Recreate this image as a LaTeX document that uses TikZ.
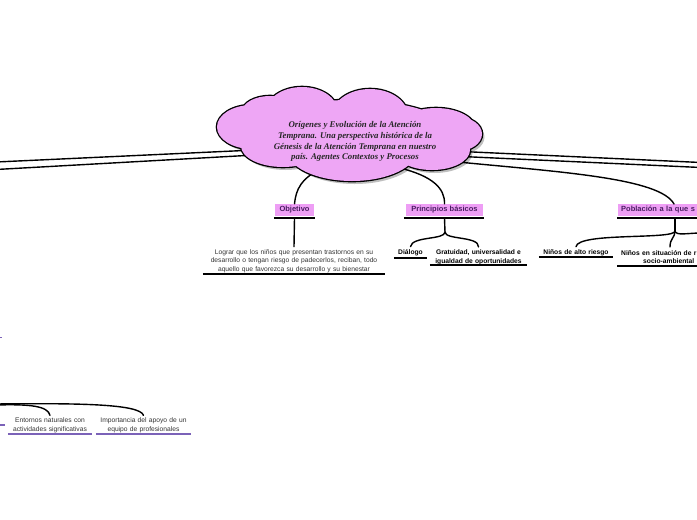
\documentclass[tikz,border=0pt]{standalone}
\usepackage{fontspec}
\setmainfont{Liberation Sans}
\newfontfamily\cloudfont{Liberation Serif}
\definecolor{cloudpink}{HTML}{EEA6F5}
\definecolor{boxpink}{HTML}{EE9EF5}
\definecolor{boxtext}{HTML}{4A1E62}
\definecolor{bodytext}{HTML}{333333}
\definecolor{ulpurple}{HTML}{7B62B8}
\begin{document}
\begin{tikzpicture}[x=1pt,y=1pt,
  conn/.style={line width=1.4pt, line cap=round},
  pbox/.style={fill=boxpink, inner xsep=3pt, inner ysep=0pt, minimum height=12pt,
    font=\fontsize{7.5}{8}\selectfont\bfseries, text=boxtext},
  uline/.style={line width=1.6pt},
  pline/.style={line width=1.6pt, draw=ulpurple},
  body/.style={font=\fontsize{6.7}{8.6}\selectfont, text=bodytext, align=center, inner xsep=0pt, inner ysep=2.5pt},
  bbody/.style={font=\fontsize{6.7}{8.6}\selectfont\bfseries, text=black, align=center, inner xsep=0pt, inner ysep=2.5pt}]
\useasboundingbox (0,0) rectangle (697,-520);
\clip (0,0) rectangle (697,-520);

% ---------- nodes ----------
\node[pbox, minimum width=39pt] (obj) at (294.5,-210) {Objetivo};
\node[pbox, minimum width=77pt] (princ) at (444.5,-210) {Principios básicos};
\node[pbox, anchor=west, text width=94pt, align=left] (pobl) at (618,-210) {Población a la que s};

\node[body, text width=182pt] (lograr) at (294,-261) {Lograr que los niños que presentan trastornos en su\\desarrollo o tengan riesgo de padecerlos, reciban, todo\\aquello que favorezca su desarrollo y su bienestar};
\node[bbody, text width=33pt] (dial) at (410.5,-252.5) {Diálogo};
\node[bbody, text width=97pt] (grat) at (478.5,-257) {Gratuidad, universalidad e\\igualdad de oportunidades};
\node[bbody, text width=74pt] (alto) at (576,-252.5) {Niños de alto riesgo};
\node[bbody, text width=80pt, align=left, anchor=west] (sit) at (621,-257) {Niños en situación de r\\\hspace*{22pt}socio-ambiental};
\node[body, text width=84pt] (ent) at (50,-425.5) {Entornos naturales con\\actividades significativas};
\node[body, text width=95pt] (imp) at (143.5,-425.5) {Importancia del apoyo de un\\equipo de profesionales};

% ---------- underlines ----------
\draw[uline] ([xshift=-1pt,yshift=-2pt]obj.south west) -- ([xshift=1pt,yshift=-2pt]obj.south east);
\draw[uline] ([xshift=-2pt,yshift=-2pt]princ.south west) -- ([xshift=1pt,yshift=-2pt]princ.south east);
\draw[uline] ([xshift=-1pt,yshift=-2pt]pobl.south west) -- ([xshift=1pt,yshift=-2pt]pobl.south east);
\draw[uline] (lograr.west |- 0,-274) -- (lograr.east |- 0,-274);
\draw[uline] (dial.west |- 0,-258) -- (dial.east |- 0,-258);
\draw[uline] (grat.west |- 0,-265) -- (grat.east |- 0,-265);
\draw[uline] (alto.west |- 0,-257) -- (alto.east |- 0,-257);
\coordinate (sitR) at (701,-266);
\draw[uline] ([xshift=-4pt]sit.west |- 0,-266) -- (sitR);
\draw[pline] (ent.west |- 0,-434) -- (ent.east |- 0,-434);
\draw[pline] (imp.west |- 0,-434) -- (imp.east |- 0,-434);
\coordinate (pl1a) at (-4,-425); \coordinate (pl1b) at (5,-425);
\draw[pline] (pl1a) -- (pl1b);
\coordinate (pl2a) at (-4,-337.5); \coordinate (pl2b) at (2,-337.5);
\draw[pline] (pl2a) -- (pl2b);

% ---------- connector anchor points ----------
\coordinate (cL1) at (255,-150); \coordinate (lE1) at (-4,-162);
\coordinate (cL2) at (255,-155); \coordinate (lE2) at (-4,-169.5);
\coordinate (cR1) at (462,-151.5); \coordinate (rE1) at (701,-162.5);
\coordinate (cR2) at (462,-156.5); \coordinate (rE2) at (701,-167.5);
\coordinate (cR3) at (458,-162); \coordinate (pTop) at (674,-204);
\coordinate (cO) at (326,-166);
\coordinate (cP) at (400,-168);
\coordinate (pj) at (445,-232);
\coordinate (qTop) at (675,-219); \coordinate (qj) at (675,-231);
\coordinate (qR) at (701,-233);
\coordinate (sitTop) at (670,-247);
\coordinate (bl0) at (-4,-405); \coordinate (bl1) at (-4,-404);

% ---------- connectors ----------
\draw[conn] (cL1) -- (lE1);
\draw[conn] (cL2) -- (lE2);
\draw[conn] (cR1) -- (rE1);
\draw[conn] (cR2) -- (rE2);
\draw[conn] (cR3) .. controls (560,-172) and (660,-178) .. (pTop);
\draw[conn] (cO) .. controls (300,-178) and (296,-190) .. (obj.north);
\draw[conn] (cP) .. controls (432,-176) and (445,-188) .. (princ.north);
\draw[conn] ([yshift=-2pt]obj.south) -- (lograr.north);
\draw[conn] ([yshift=-2pt]princ.south) -- (pj);
\draw[conn] (pj) .. controls (445,-240) and (412,-236) .. (dial.north);
\draw[conn] (pj) .. controls (445,-240) and (479,-236) .. (grat.north);
\draw[conn] (qTop) -- (qj);
\draw[conn] (qj) .. controls (675,-240) and (578,-232) .. (alto.north);
\draw[conn] (qj) .. controls (675,-238) and (670,-238) .. (sitTop);
\draw[conn] (qj) .. controls (676,-236) and (688,-233) .. (qR);
\draw[conn] (bl0) .. controls (30,-404) and (48,-406) .. (ent.north);
\draw[conn] (bl1) .. controls (80,-403) and (140,-404) .. (imp.north);

% ---------- cloud ----------
\newcommand{\cloudshape}{%
  (302,-112) ellipse [x radius=36, y radius=25]
  (370,-116) ellipse [x radius=38, y radius=27]
  (436,-130) ellipse [x radius=40, y radius=22]
  (458,-134) ellipse [x radius=24, y radius=17]
  (432,-150) ellipse [x radius=38, y radius=20]
  (352,-150) ellipse [x radius=65, y radius=31]
  (283,-146) ellipse [x radius=42, y radius=21]
  (252,-127) ellipse [x radius=35, y radius=22]
  (270,-112) ellipse [x radius=28, y radius=16]
  (350,-132) ellipse [x radius=100, y radius=32]}
\begin{scope}[shift={(2.5,-3)}]
  \fill[black, opacity=0.25] \cloudshape;
\end{scope}
\draw[line width=2.6pt] \cloudshape;
\fill[cloudpink] \cloudshape;
\node[font=\cloudfont\fontsize{8.8}{10.8}\selectfont\bfseries\itshape, text=black!85, align=center] (title) at (355,-141.5)
  {Orígenes y Evolución de la Atención\\Temprana. Una perspectiva histórica de la\\Génesis de la Atención Temprana en nuestro\\país. Agentes Contextos y Procesos};
\end{tikzpicture}
\end{document}
